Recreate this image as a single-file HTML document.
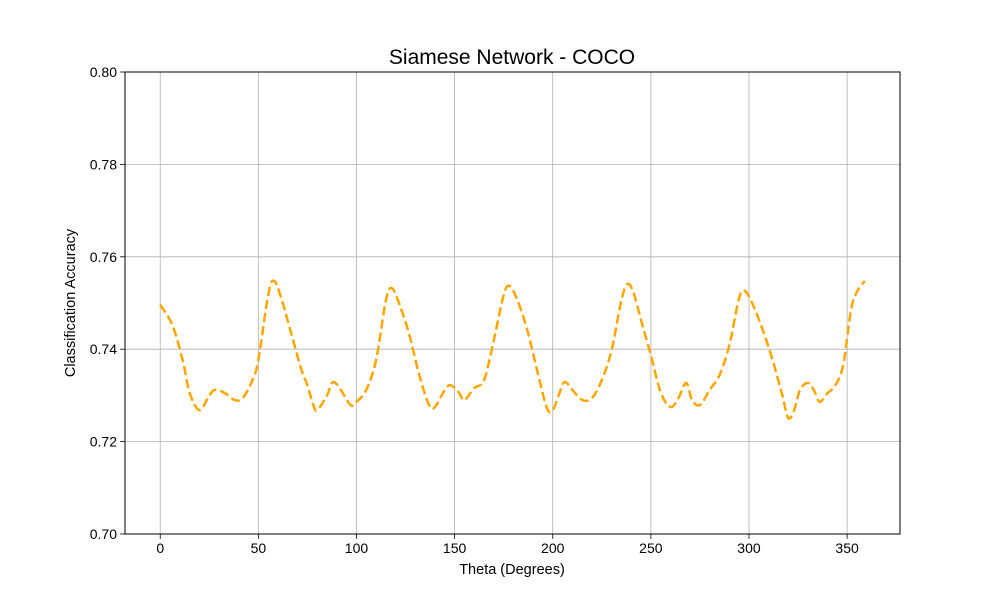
<!DOCTYPE html>
<html><head><meta charset="utf-8"><style>
body{margin:0;background:#fff;font-family:"Liberation Sans",sans-serif}
</style></head><body>
<svg id="chart" width="1000" height="600" xmlns="http://www.w3.org/2000/svg" font-family="Liberation Sans, sans-serif">
<rect width="1000" height="600" fill="#fff"/>
<g id="grid"></g>
<g id="series"></g>
<rect x="125" y="72" width="775" height="462" fill="none" stroke="#000" stroke-width="1"/>
<g id="ticks"></g>
<text x="512" y="64" font-size="21" text-anchor="middle">Siamese Network - COCO</text>
<text x="512" y="574" font-size="14.5" text-anchor="middle">Theta (Degrees)</text>
<text x="75" y="303" font-size="14.5" text-anchor="middle" transform="rotate(-90 75 303)">Classification Accuracy</text>
</svg>
<script>
const thetas=[0,5,8,12,15,20,25,28,33,38,42,47,50,55,58,62,67,72,75,78,80,85,88,92,97,100,105,110,115,118,122,127,132,137,140,145,148,152,155,160,165,170,175,178,182,187,192,197,200,203,206,210,215,220,225,230,235,238,241,245,250,255,260,264,268,271,275,280,285,290,295,298,302,307,312,317,320,323,326,330,333,336,340,344,348,352,355,359];
const accuracy=[.7496,.7463,.743,.7366,.7305,.7268,.730,.7312,.7305,.729,.7294,.7333,.7377,.7517,.7548,.7506,.743,.7355,.7322,.7279,.7268,.730,.7329,.7312,.7279,.7286,.7312,.7377,.7506,.7532,.7496,.743,.7344,.7279,.7275,.7312,.7322,.7307,.729,.7316,.7333,.742,.7517,.7537,.7506,.7442,.7355,.7273,.7268,.730,.7329,.7312,.729,.7294,.7333,.7398,.7506,.7541,.7524,.7463,.7387,.7307,.7275,.7294,.7327,.729,.7279,.7312,.7344,.7409,.7511,.7526,.7496,.7442,.7377,.730,.7251,.7268,.7312,.7327,.7312,.7286,.7305,.7322,.7366,.7485,.7524,.7548];
const xTicks=[0,50,100,150,200,250,300,350];
const yTicks=[0.70,0.72,0.74,0.76,0.78,0.80];
const NS="http://www.w3.org/2000/svg";
const X0=125,X1=900,Y0=72,Y1=534,xMin=-17.95,xMax=376.95,yMin=0.70,yMax=0.80;
const sx=v=>X0+(v-xMin)/(xMax-xMin)*(X1-X0);
const sy=v=>Y1-(v-yMin)/(yMax-yMin)*(Y1-Y0);
function mk(t,a,p){const e=document.createElementNS(NS,t);for(const k in a)e.setAttribute(k,a[k]);p.appendChild(e);return e;}
const grid=document.getElementById('grid'),ticks=document.getElementById('ticks'),series=document.getElementById('series');
xTicks.forEach(v=>{const x=sx(v);
const g=mk('line',{x1:x,x2:x,y1:Y0,y2:Y1,stroke:'#b0b0b0','stroke-width':0.8},grid);


mk('line',{x1:x,x2:x,y1:Y1,y2:Y1+4.9,stroke:'#000','stroke-width':0.8},ticks);
const t=mk('text',{x:x,y:Y1+19,'font-size':14,'text-anchor':'middle'},ticks);t.textContent=v;

});
yTicks.forEach(v=>{const y=sy(v);
const g=mk('line',{x1:X0,x2:X1,y1:y,y2:y,stroke:'#b0b0b0','stroke-width':0.8},grid);


mk('line',{x1:X0-4.9,x2:X0,y1:y,y2:y,stroke:'#000','stroke-width':0.8},ticks);
const t=mk('text',{x:X0-8,y:y+5,'font-size':14,'text-anchor':'end'},ticks);t.textContent=v.toFixed(2);

});
const pts=thetas.map((t,i)=>[sx(t),sy(accuracy[i])]);
let d='M'+pts[0][0]+','+pts[0][1];
for(let i=0;i<pts.length-1;i++){const p0=pts[Math.max(0,i-1)],p1=pts[i],p2=pts[i+1],p3=pts[Math.min(pts.length-1,i+2)];
d+=' C'+(p1[0]+(p2[0]-p0[0])/6)+','+(p1[1]+(p2[1]-p0[1])/6)+' '+(p2[0]-(p3[0]-p1[0])/6)+','+(p2[1]-(p3[1]-p1[1])/6)+' '+p2[0]+','+p2[1];}
const line=mk('path',{d:d,fill:'none',stroke:'#ffa500','stroke-width':2.5,'stroke-dasharray':'9.25,4'},series);


</script>
</body></html>
